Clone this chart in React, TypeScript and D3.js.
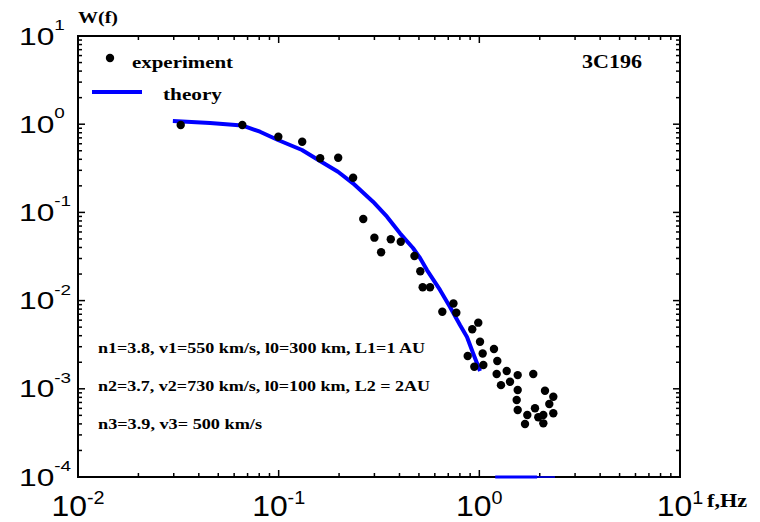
import React from "react";
import * as d3 from "d3";

const expF = [0.0325, 0.0659, 0.0996, 0.131, 0.161, 0.198, 0.235, 0.264, 0.300, 0.324, 0.362, 0.406, 0.475, 0.508, 0.522, 0.568, 0.654, 0.743, 0.768, 0.988, 0.922, 1.008, 1.183, 0.875, 1.039, 1.229, 0.944, 1.047, 1.22, 1.369, 1.553, 1.857, 1.282, 1.422, 1.553, 1.535, 1.553, 2.124, 2.337, 2.232, 2.337, 2.084, 1.894, 1.967, 1.734, 1.689, 2.084];
const expW = [0.98, 0.98, 0.722, 0.633, 0.411, 0.417, 0.247, 0.0842, 0.0517, 0.0353, 0.0496, 0.0465, 0.0320, 0.0215, 0.01415, 0.01415, 0.00748, 0.00927, 0.00729, 0.00562, 0.00473, 0.00342, 0.00283, 0.00235, 0.00251, 0.00207, 0.00178, 0.00186, 0.00147, 0.00159, 0.00143, 0.00147, 0.0011, 0.0012, 0.00097, 0.000746, 0.000575, 0.000952, 0.000814, 0.000672, 0.000528, 0.000505, 0.000601, 0.000475, 0.000505, 0.000399, 0.000406];

const theoryF = [0.0297, 0.0455, 0.0657, 0.0807, 0.0992, 0.1307, 0.1607, 0.1975, 0.2346, 0.2952, 0.3466, 0.4024, 0.467, 0.5063, 0.5484, 0.6368, 0.7143, 0.8009, 0.868, 0.93, 1.008];
const theoryW = [1.087, 1.032, 0.967, 0.822, 0.662, 0.51, 0.3826, 0.2893, 0.2137, 0.1322, 0.0894, 0.0579, 0.0395, 0.0304, 0.0222, 0.0132, 0.00846, 0.00529, 0.00387, 0.00255, 0.00159];

const tailThickF = [1.2, 1.94];
const tailThinF = [1.94, 2.38];
const tailW = [1e-4, 1e-4];

const xTickExps = ["-2", "-1", "0", "1"];
const yTickExps = ["1", "0", "-1", "-2", "-3", "-4"];

const annotations = [
  "n1=3.8, v1=550 km/s, l0=300 km, L1=1 AU",
  "n2=3.7, v2=730 km/s, l0=100 km, L2 = 2AU",
  "n3=3.9, v3= 500 km/s",
];

const W = 760, H = 522;
const L = 78, R = 680, T = 36, B = 477;

export default function App() {
  const x = d3.scaleLog().domain([0.01, 10]).range([L, R]);
  const y = d3.scaleLog().domain([1e-4, 10]).range([B, T]);
  const xt = x.ticks();
  const yt = y.ticks();
  const isMajor = (v: number) => Math.abs(Math.log10(v) - Math.round(Math.log10(v))) < 1e-6;
  const line = d3.line<[number, number]>().x(d => x(d[0])).y(d => y(d[1]));
  const theoryPts = theoryF.map((f, i) => [f, theoryW[i]] as [number, number]);
  const tailA = tailThickF.map((f, i) => [f, tailW[i]] as [number, number]);
  const tailB = tailThinF.map((f, i) => [f, tailW[i]] as [number, number]);
  const serif = "'Liberation Serif', 'Times New Roman', serif";
  const sans = "'Liberation Sans', Arial, sans-serif";
  const annWidths = [327, 332, 164];
  const annY = [353, 391, 429];

  return (
    <svg width={W} height={H} style={{ position: "absolute", left: 0, top: 0, background: "#fff" }}>
      <rect x={0} y={0} width={W} height={H} fill="#fff" />
      {xt.map((v, i) => {
        const len = isMajor(v) ? 7 : 4;
        return (
          <g key={"xt" + i} stroke="#000" strokeWidth={1.5}>
            <line x1={x(v)} x2={x(v)} y1={B} y2={B - len} />
            <line x1={x(v)} x2={x(v)} y1={T} y2={T + len} />
          </g>
        );
      })}
      {yt.map((v, i) => {
        const len = isMajor(v) ? 7 : 4;
        return (
          <g key={"yt" + i} stroke="#000" strokeWidth={1.5}>
            <line x1={L} x2={L + len} y1={y(v)} y2={y(v)} />
            <line x1={R} x2={R - len} y1={y(v)} y2={y(v)} />
          </g>
        );
      })}
      <rect x={L} y={T} width={R - L} height={B - T} fill="none" stroke="#000" strokeWidth={2} />

      <path d={line(theoryPts) || ""} fill="none" stroke="#0000ff" strokeWidth={4} strokeLinejoin="round" />
      <path d={line(tailA) || ""} fill="none" stroke="#0000ff" strokeWidth={3} />
      <path d={line(tailB) || ""} fill="none" stroke="#0000ff" strokeWidth={1.5} />

      {expF.map((f, i) => (
        <circle key={"e" + i} cx={x(f)} cy={y(expW[i])} r={4.2} fill="#000" />
      ))}

      {yTickExps.map((e, i) => {
        const v = Math.pow(10, +e);
        return (
          <text key={"yl" + i} transform={`translate(19,${y(v) + 8.5}) scale(1.35,1)`} fontFamily={sans} fontSize={23.5} fill="#000">
            10<tspan fontSize={14} dy={-14.5}>{e}</tspan>
          </text>
        );
      })}
      {xTickExps.map((e, i) => {
        const v = Math.pow(10, +e);
        return (
          <text key={"xl" + i} transform={`translate(${x(v)},515.5) scale(1.1,1)`} textAnchor="middle" fontFamily={sans} fontSize={29} fill="#000">
            10<tspan fontSize={18} dy={-11.5}>{e}</tspan>
          </text>
        );
      })}

      <text x={78} y={23} fontFamily={serif} fontWeight="bold" fontSize={17} textLength={40} lengthAdjust="spacingAndGlyphs">W(f)</text>
      <text x={707} y={507} fontFamily={serif} fontWeight="bold" fontSize={18} textLength={40} lengthAdjust="spacingAndGlyphs">f,Hz</text>

      <circle cx={110} cy={58} r={4.2} fill="#000" />
      <text x={132} y={68} fontFamily={serif} fontWeight="bold" fontSize={17} textLength={101} lengthAdjust="spacingAndGlyphs">experiment</text>
      <line x1={92} x2={142} y1={92} y2={92} stroke="#0000ff" strokeWidth={4} />
      <text x={163} y={100} fontFamily={serif} fontWeight="bold" fontSize={17} textLength={59} lengthAdjust="spacingAndGlyphs">theory</text>
      <text x={582} y={68} fontFamily={serif} fontWeight="bold" fontSize={18} textLength={60} lengthAdjust="spacingAndGlyphs">3C196</text>

      {annotations.map((t, i) => (
        <text key={"a" + i} x={98} y={annY[i]} fontFamily={serif} fontWeight="bold" fontSize={14} textLength={annWidths[i]} lengthAdjust="spacingAndGlyphs">{t}</text>
      ))}
    </svg>
  );
}
